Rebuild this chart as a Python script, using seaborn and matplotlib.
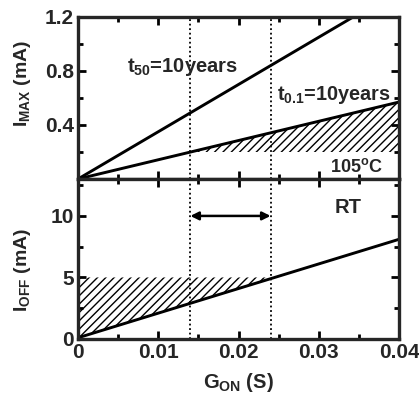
import numpy as np
import pandas as pd
import matplotlib
matplotlib.use("Agg")
import matplotlib.pyplot as plt
import seaborn as sns
from matplotlib.ticker import MultipleLocator

# ---- data ----
g_on = [0.0, 0.04]
imax_t50 = [0.0, 1.40]      # t50 = 10 years line (mA)
imax_t01 = [0.0, 0.57]      # t0.1 = 10 years line (mA)
ioff_line = [0.1, 8.1]      # I_OFF line (mA)
imax_floor = 0.2            # lower bound of hatched region (top)
ioff_ceiling = 5.0          # upper bound of hatched region (bottom)
g_window = [0.014, 0.024]   # dotted design window

sns.set_theme(style="ticks")
plt.rcParams['font.family'] = ['Liberation Sans', 'DejaVu Sans']
plt.rcParams['font.weight'] = 'bold'
plt.rcParams['mathtext.fontset'] = 'custom'
plt.rcParams['mathtext.rm'] = 'Liberation Sans:bold'
plt.rcParams['mathtext.it'] = 'Liberation Sans:bold'
plt.rcParams['mathtext.bf'] = 'Liberation Sans:bold'
plt.rcParams['hatch.linewidth'] = 1.0

fig = plt.figure(figsize=(4.19, 3.96), dpi=100)
L, R = 78/419, 399/419
ax1 = fig.add_axes([L, 1-179/396, R-L, (179-17)/396])
ax2 = fig.add_axes([L, 1-339/396, R-L, (339-179)/396], sharex=ax1)

df_top = pd.DataFrame({"g": g_on * 2,
                       "i": imax_t50 + imax_t01,
                       "s": ["t50"] * 2 + ["t01"] * 2})
sns.lineplot(data=df_top, x="g", y="i", units="s", estimator=None,
             color="black", lw=2.1, ax=ax1, legend=False)
df_bot = pd.DataFrame({"g": g_on, "i": ioff_line})
sns.lineplot(data=df_bot, x="g", y="i", color="black", lw=2.1, ax=ax2,
             legend=False)

# hatched regions
slope_t01 = (imax_t01[1] - imax_t01[0]) / (g_on[1] - g_on[0])
g_start = (imax_floor - imax_t01[0]) / slope_t01
gx = np.array([g_start, g_on[1]])
ax1.fill_between(gx, imax_floor, imax_t01[0] + slope_t01 * gx,
                 facecolor='none', edgecolor='black', hatch='////', lw=0)
slope_off = (ioff_line[1] - ioff_line[0]) / (g_on[1] - g_on[0])
g_end = (ioff_ceiling - ioff_line[0]) / slope_off
gx2 = np.array([0.0, g_end])
ax2.fill_between(gx2, ioff_line[0] + slope_off * gx2, ioff_ceiling,
                 facecolor='none', edgecolor='black', hatch='////', lw=0)

for ax in (ax1, ax2):
    for g in g_window:
        ax.axvline(g, color='black', ls=(0, (1, 1.5)), lw=1.3)
    for s in ax.spines.values():
        s.set_linewidth(2.4)
        s.set_visible(True)
    ax.tick_params(which='both', direction='in', top=True, right=True,
                   width=2, labelsize=15, color='black', pad=3)
    ax.tick_params(which='major', length=6)
    ax.tick_params(which='minor', length=3.5)
    ax.xaxis.set_major_locator(MultipleLocator(0.01))
    ax.xaxis.set_minor_locator(MultipleLocator(0.005))

ax1.set_xlim(0, 0.04)
ax1.set_ylim(0, 1.2)
ax1.yaxis.set_minor_locator(MultipleLocator(0.2))
ax1.set_yticks([0.4, 0.8, 1.2])
ax1.set_yticklabels(['0.4', '0.8', '1.2'])
ax1.tick_params(labelbottom=False)
ax1.set_xlabel('')

ax2.set_ylim(0, 13)
ax2.set_yticks([0, 5, 10])
ax2.yaxis.set_minor_locator(MultipleLocator(2.5))
ax2.set_xticks([0, 0.01, 0.02, 0.03, 0.04])
ax2.set_xticklabels(['0', '0.01', '0.02', '0.03', '0.04'])

for lab in ax1.get_yticklabels() + ax2.get_yticklabels() + ax2.get_xticklabels():
    lab.set_fontweight('bold')

ax1.set_ylabel(r'$I_{MAX}$ (mA)', fontsize=14, fontweight='bold')
ax1.yaxis.set_label_coords(-0.14, 0.59)
ax2.set_ylabel(r'$I_{OFF}$ (mA)', fontsize=14, fontweight='bold')
ax2.yaxis.set_label_coords(-0.14, 0.43)
ax2.set_xlabel(r'$G_{ON}$ (S)', fontsize=14.5, fontweight='bold', labelpad=6)

# annotations
ax1.text(0.0061, 0.83, r'$t_{50}$=10years', fontsize=14.5, fontweight='bold',
         ha='left', va='center')
ax1.text(0.0248, 0.62, r'$t_{0.1}$=10years', fontsize=14.3, fontweight='bold',
         ha='left', va='center')
ax1.text(0.0314, 0.09, r'105$^{o}$C', fontsize=13, fontweight='bold',
         ha='left', va='center')
ax2.text(0.0320, 10.7, 'RT', fontsize=14.5, fontweight='bold',
         ha='left', va='center')
ax2.annotate('', xy=(g_window[1], 10), xytext=(g_window[0], 10),
             arrowprops=dict(arrowstyle='<|-|>', color='black', lw=1.8,
                             shrinkA=0, shrinkB=0, mutation_scale=12))

fig.savefig('out.png', dpi=100)
